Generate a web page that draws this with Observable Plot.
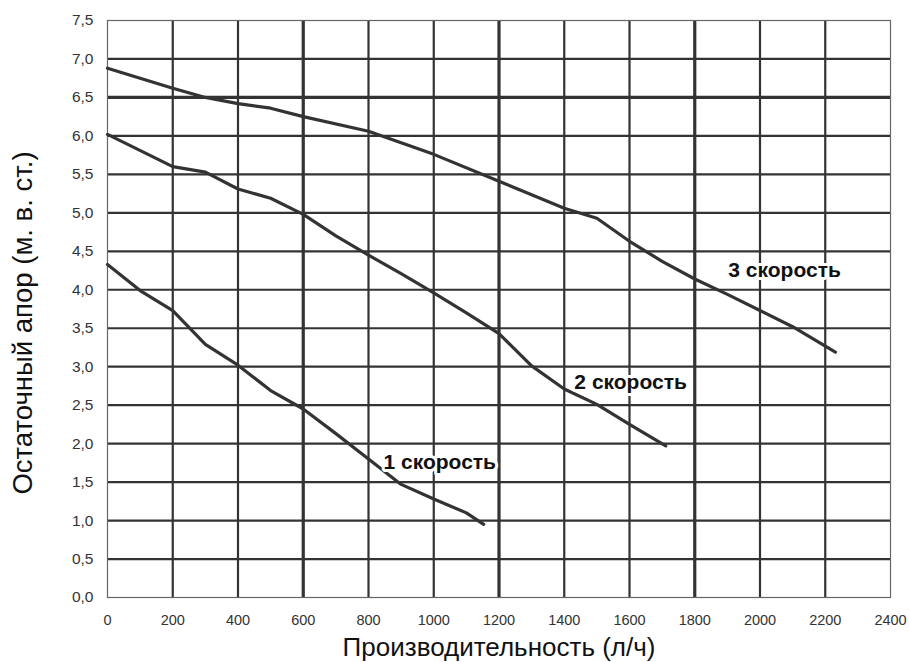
<!DOCTYPE html>
<html>
<head>
<meta charset="utf-8">
<script src="https://cdn.jsdelivr.net/npm/d3@7"></script>
<script src="https://cdn.jsdelivr.net/npm/@observablehq/plot@0.6"></script>
<style>
  html, body { margin: 0; padding: 0; background: #fff; }
  #chart { width: 910px; height: 662px; }
</style>
</head>
<body>
<div id="chart"></div>
<script>
// Speed 1 curve
const speed1X = [0, 100, 200, 300, 400, 500, 600, 700, 800, 900, 1000, 1100, 1153];
const speed1Y = [4.33, 3.99, 3.73, 3.29, 3.02, 2.69, 2.45, 2.13, 1.80, 1.47, 1.28, 1.10, 0.95];
// Speed 2 curve
const speed2X = [0, 200, 300, 400, 500, 600, 700, 800, 900, 1000, 1100, 1200, 1300, 1400, 1500, 1600, 1711];
const speed2Y = [6.02, 5.60, 5.53, 5.31, 5.19, 4.98, 4.70, 4.45, 4.21, 3.96, 3.70, 3.43, 3.01, 2.71, 2.51, 2.25, 1.97];
// Speed 3 curve
const speed3X = [0, 200, 300, 400, 500, 600, 800, 900, 1000, 1200, 1400, 1500, 1600, 1700, 1800, 1900, 2000, 2100, 2231];
const speed3Y = [6.88, 6.62, 6.50, 6.42, 6.36, 6.25, 6.06, 5.91, 5.76, 5.41, 5.06, 4.93, 4.63, 4.37, 4.14, 3.94, 3.73, 3.52, 3.19];

const seriesNames = ["1 скорость", "2 скорость", "3 скорость"];
const labelX = [846, 1431, 1903];
const labelY = [1.76, 2.80, 4.25];

const xTitle = "Производительность (л/ч)";
const yTitle = "Остаточный апор (м. в. ст.)";

const xTicks = d3.range(0, 2401, 200);
const yTicks = d3.range(0, 7.51, 0.5).map(v => Math.round(v * 10) / 10);
const thickX = [600, 1200, 1800];
const thickY = [6.5];

const curves = [
  [speed1X, speed1Y],
  [speed2X, speed2Y],
  [speed3X, speed3Y]
].flatMap(([xs, ys], i) => xs.map((x, j) => ({series: seriesNames[i], x, y: ys[j]})));

const labels = seriesNames.map((name, i) => ({name, x: labelX[i], y: labelY[i]}));

const innerX = xTicks.filter(v => v > 0 && v < 2400);
const innerY = yTicks.filter(v => v > 0 && v < 7.5);
const comma = d => d.toFixed(1).replace(".", ",");

const chart = Plot.plot({
  width: 910,
  height: 662,
  marginLeft: 107,
  marginRight: 20,
  marginTop: 20,
  marginBottom: 65,
  style: {fontFamily: "'Liberation Sans', Arial, sans-serif", background: "#fff"},
  x: {domain: [0, 2400], axis: null},
  y: {domain: [0, 7.5], axis: null},
  marks: [
    Plot.ruleX(innerX, {stroke: "#333", strokeWidth: d => thickX.includes(d) ? 3.2 : 2.2}),
    Plot.ruleY(innerY, {stroke: "#333", strokeWidth: d => thickY.includes(d) ? 3.2 : 2.2}),
    Plot.frame({stroke: "#666", strokeWidth: 1.2}),
    Plot.text(xTicks, {x: d => d, frameAnchor: "bottom", lineAnchor: "middle", dy: 23, text: d => String(d), fontSize: 14.5, fill: "#333"}),
    Plot.text(yTicks, {y: d => d, frameAnchor: "left", textAnchor: "end", dx: -14, text: comma, fontSize: 15.5, fill: "#333"}),
    Plot.text([xTitle], {frameAnchor: "bottom", lineAnchor: "middle", dy: 50, text: d => d, fontSize: 26, fill: "#111"}),
    Plot.text([yTitle], {frameAnchor: "left", textAnchor: "middle", lineAnchor: "middle", rotate: -90, dx: -84, dy: 14, text: d => d, fontSize: 27.5, fill: "#111"}),
    Plot.line(curves, {x: "x", y: "y", z: "series", stroke: "#333", strokeWidth: 3.2, strokeLinejoin: "round"}),
    Plot.text(labels, {x: "x", y: "y", text: "name", textAnchor: "start", fontSize: 21, fontWeight: "bold", fill: "#111", stroke: "white", strokeWidth: 6})
  ]
});

document.getElementById("chart").appendChild(chart);
</script>
</body>
</html>
